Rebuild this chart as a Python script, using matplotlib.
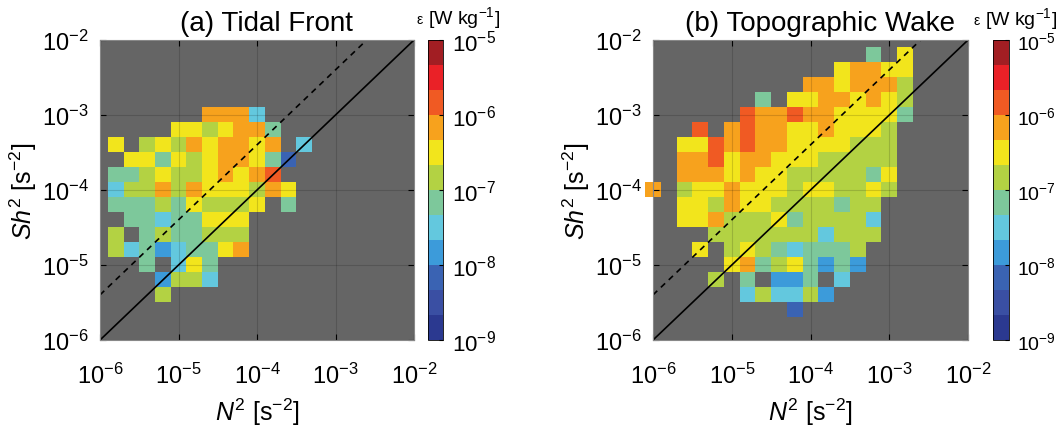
import numpy as np
import matplotlib.pyplot as plt
from matplotlib.colors import ListedColormap, BoundaryNorm
from matplotlib.ticker import FixedLocator, FuncFormatter, NullLocator

plt.rcParams['font.family'] = 'Liberation Sans'
plt.rcParams['mathtext.fontset'] = 'custom'
plt.rcParams['mathtext.rm'] = 'Liberation Sans'
plt.rcParams['mathtext.it'] = 'Liberation Sans:italic'
plt.rcParams['mathtext.default'] = 'regular'

# bin-averaged log10(epsilon) in N2/Sh2 space, bins 0.2 decade wide centred on 10**(-6 + 0.2*k)
# each entry: Sh2 bin index -> (first N2 bin index, log10 eps for consecutive N2 bins)
nan = np.nan
tidal_front = {
    15: (7, [-6.2, -6.2, -6.2, -7.5]),
    14: (5, [-6.5, -6.5, -6.8, -6.5, -6.2, -6.2, -7.2]),
    13: (1, [-6.5, nan, -6.8, -6.5, -6.8, -6.2, -6.5, -6.2, -6.2, -6.5, -6.2, nan, -7.5]),
    12: (2, [-6.5, -6.5, -7.2, -6.5, -6.8, -6.5, -6.2, -6.2, -6.5, -7.2, -8.2]),
    11: (1, [-7.2, -7.2, -6.8, -6.5, -6.8, -6.8, -6.5, -6.2, -6.5, -6.2, -5.8]),
    10: (1, [-7.5, -6.8, -6.8, -6.2, -6.8, -6.2, -6.5, -6.5, -6.5, -6.8, -6.2, -6.5]),
    9: (1, [-7.2, -7.2, -7.2, -6.8, -7.2, -6.5, -6.8, -6.8, -6.8, -6.5, nan, -7.2]),
    8: (2, [-7.2, -7.2, -7.5, -7.2, -7.2, -6.5, -6.5, -6.5]),
    7: (1, [-6.8, nan, -7.2, -6.8, -7.2, -7.2, -6.8, -6.8, -6.8]),
    6: (1, [-6.8, -7.5, -7.2, -7.8, -7.5, -7.2, -7.2, -6.5, -6.2]),
    5: (3, [-7.2, nan, -7.5, -6.5, -7.2]),
    4: (4, [-7.8, -6.8, -6.8, -7.5]),
    3: (4, [-6.8]),
}
topo_wake = {
    19: (14, [-7.2, nan, -6.5]),
    18: (12, [-6.5, -6.2, -6.2, -6.5, -6.5]),
    17: (10, [-6.2, -6.2, -6.5, -6.2, -6.2, -6.2, -6.8]),
    16: (7, [-7.2, nan, -6.5, -6.5, -6.2, -6.2, -6.5, -6.2, -6.5, -6.8]),
    15: (6, [-5.8, -6.2, -6.2, -5.8, -6.2, -6.2, -6.5, -6.5, -6.5, -6.5, -7.2]),
    14: (3, [-5.8, nan, -6.2, -5.8, -6.2, -6.2, -6.5, -6.5, -6.2, -6.5, -6.5, -6.5, -6.8]),
    13: (2, [-6.5, -6.5, -5.8, -6.2, -5.8, -6.2, -6.2, -6.5, -6.5, -6.5, -6.5, -6.8, -6.8, -6.8]),
    12: (2, [-6.2, -6.2, -5.8, -6.5, -6.2, -6.2, -6.5, -6.5, -6.5, -6.8, -6.8, -6.8, -6.8, -6.8]),
    11: (2, [-6.2, -6.2, -6.2, -6.5, -6.2, -6.5, -6.5, -6.8, -6.8, -6.8, -6.8, -6.8, -7.2, -6.5]),
    10: (0, [-6.2, nan, -6.8, -6.5, -6.5, -6.2, -6.5, -6.5, -6.5, -6.8, -6.5, -6.5, -6.8, -6.8, -6.5, -6.8]),
    9: (2, [-6.5, -6.5, -6.8, -6.2, -6.5, -6.5, -6.8, -6.8, -6.8, -6.8, -7.2, -6.8, -6.8]),
    8: (2, [-6.5, -6.5, -6.2, -6.8, -6.8, -6.8, -6.5, -7.2, -6.8, -6.8, -6.8, -6.8, -7.5]),
    7: (4, [-6.8, -6.8, -6.8, -6.8, -6.8, -6.8, -6.8, -7.5, -6.8, -6.8, -6.8]),
    6: (3, [-6.5, nan, -6.8, -6.5, -6.8, -7.2, -7.5, -7.2, -7.2, -7.2, -6.8]),
    5: (5, [-6.5, -6.2, -7.2, -6.8, -6.5, -7.2, -7.8, -7.2, -7.8]),
    4: (4, [-6.8, nan, -7.2, nan, -7.8, -7.8, -7.2, nan, -7.5]),
    3: (6, [-7.5, -6.8, -7.5, -7.5, -6.8, -7.8]),
    2: (9, [-8.2]),
}
titles = ['(a) Tidal Front', '(b) Topographic Wake']

eps_colors = ['#2b3990', '#3a4fa3', '#3a63b3', '#3c9bda', '#63c8de', '#7dc89b',
              '#b3d243', '#f2e51c', '#f7a21d', '#f05a23', '#ea2127', '#a21e23']
eps_bounds = 10.0 ** np.linspace(-9, -5, 13)
cmap = ListedColormap(eps_colors)
norm = BoundaryNorm(eps_bounds, cmap.N)

nbins = 21
edges = 10.0 ** (-6.1 + 0.2 * np.arange(nbins + 1))


def to_grid(rows):
    z = np.full((nbins, nbins), np.nan)
    for j, (i0, vals) in rows.items():
        z[j, i0:i0 + len(vals)] = vals
    return np.ma.masked_invalid(10.0 ** z)


def pow_label(v, pos=None):
    return r'$10^{%d}$' % round(np.log10(v))


fig = plt.figure(figsize=(10.61, 4.35), dpi=100)
ax_pos = [[0.0943, 0.2161, 0.2959, 0.6897], [0.6155, 0.2161, 0.2969, 0.6897]]
cb_pos = [[0.4034, 0.2161, 0.0143, 0.6897], [0.9359, 0.2161, 0.0151, 0.6897]]
cb_fontsize = [16, 14]
title_x = [0.53, 0.53]
decades = [1e-6, 1e-5, 1e-4, 1e-3, 1e-2]
cb_ticks = [1e-9, 1e-8, 1e-7, 1e-6, 1e-5]

for k, rows in enumerate([tidal_front, topo_wake]):
    ax = fig.add_axes(ax_pos[k])
    ax.set_facecolor('#656565')
    mesh = ax.pcolormesh(edges, edges, to_grid(rows), cmap=cmap, norm=norm)
    mesh.set_clip_on(False)
    ax.set_xscale('log')
    ax.set_yscale('log')
    ax.set_xlim(1e-6, 1e-2)
    ax.set_ylim(1e-6, 1e-2)
    ax.grid(True, color='k', alpha=0.15, lw=0.8)
    # Ri = 1 and Ri = 1/4
    ax.plot([1e-6, 1e-2], [1e-6, 1e-2], color='k', lw=1.2)
    ax.plot([1e-6, 2.5e-3], [4e-6, 1e-2], color='k', lw=1.2, ls=(0, (3.5, 3)))
    for axis in (ax.xaxis, ax.yaxis):
        axis.set_major_locator(FixedLocator(decades))
        axis.set_minor_locator(NullLocator())
        axis.set_major_formatter(FuncFormatter(pow_label))
    ax.tick_params(labelsize=17, direction='in', length=4, top=True, right=True, pad=8)
    ax.tick_params(axis='x', pad=16)
    for sp in ax.spines.values():
        sp.set_color('#888888')
    ax.set_xlabel(r'$\mathit{N}^2$ [s$^{-2}$]', fontsize=18, labelpad=6)
    ax.set_ylabel(r'$\mathit{Sh}^2$ [s$^{-2}$]', fontsize=18, labelpad=2)
    ax.set_title(titles[k], fontsize=20, pad=7, x=title_x[k])

    cax = fig.add_axes(cb_pos[k])
    cb = fig.colorbar(mesh, cax=cax, ticks=cb_ticks)
    cb.ax.set_yticklabels([pow_label(v) for v in cb_ticks])
    cb.ax.tick_params(labelsize=cb_fontsize[k], direction='in', length=3, pad=6)
    cb.ax.minorticks_off()
    cb.outline.set_linewidth(0.6)

# colorbar units, small epsilon in front of the bracket
renderer = fig.canvas.get_renderer()
for x_right, y in [(500 / 1061, 0.945), (1057 / 1061, 0.942)]:
    unit = fig.text(x_right, y, r'[W kg$^{-1}$]', fontsize=14, ha='right')
    bb = unit.get_window_extent(renderer=renderer)
    fig.text((bb.x0 - 4) / fig.bbox.width, y, r'$\epsilon$', fontsize=10, ha='right')

fig.savefig('out.png', dpi=100)
